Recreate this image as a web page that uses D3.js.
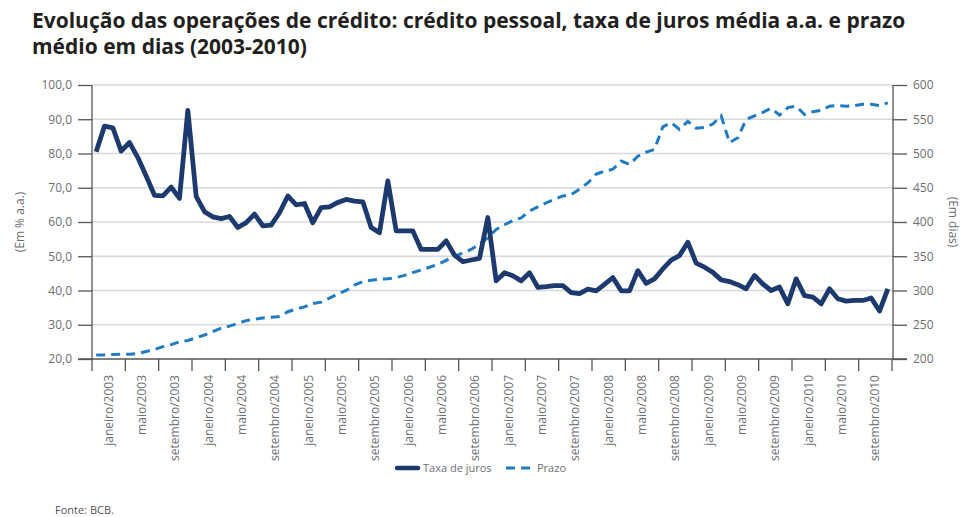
<!DOCTYPE html>
<html>
<head>
<meta charset="utf-8">
<script src="https://cdn.jsdelivr.net/npm/d3@7"></script>
<style>
    body { margin: 0; background: #fff; }
    svg text { font-family: "Liberation Sans Narrow", "Open Sans", sans-serif; }
</style>
</head>
<body>
<div id="chart"></div>
<script>

// categorias: meses de janeiro/2003 a dezembro/2010
var years = [2003, 2004, 2005, 2006, 2007, 2008, 2009, 2010];
var monthNames = ["janeiro", "fevereiro", "março", "abril", "maio", "junho",
    "julho", "agosto", "setembro", "outubro", "novembro", "dezembro"];

// taxa de juros média (% a.a.) - eixo esquerdo
var taxa = [
    80.5, 88.0, 87.5, 80.7, 83.2, 78.8, 73.4, 67.8, 67.6, 70.2, 66.9, 92.6,
    67.5, 63.0, 61.5, 61.0, 61.6, 58.4, 59.8, 62.3, 58.9, 59.1, 62.7, 67.6,
    65.0, 65.4, 59.8, 64.2, 64.4, 65.7, 66.6, 66.1, 65.9, 58.4, 56.9, 72.0,
    57.4, 57.4, 57.4, 52.0, 52.0, 52.0, 54.5, 50.3, 48.4, 48.9, 49.4, 61.3,
    42.8, 45.2, 44.3, 42.8, 45.2, 40.9, 41.1, 41.4, 41.4, 39.4, 39.1, 40.4,
    39.9, 41.8, 43.8, 39.9, 39.9, 45.8, 42.1, 43.4, 46.3, 48.9, 50.2, 54.1,
    48.0, 46.8, 45.3, 43.1, 42.6, 41.7, 40.5, 44.4, 41.9, 40.0, 41.0, 36.1,
    43.4, 38.5, 38.1, 36.1, 40.5, 37.6, 36.9, 37.1, 37.1, 37.8, 34.0, 40.5
];

// prazo médio (dias) - eixo direito
var prazo = [
    206, 206, 206.5, 207, 207, 208, 211, 214, 218, 221, 225, 227,
    231, 235, 240, 245, 248, 252, 256, 258, 260, 261, 262, 269,
    273, 276, 281, 283, 289, 295, 300, 308, 313, 315, 316.5, 317,
    319, 322, 326, 330, 334, 338, 344, 350, 355, 360, 368, 377,
    389, 396, 402, 406, 416, 422, 428, 433, 438, 440, 448, 457,
    470, 474, 477, 489, 484, 496, 502, 506, 539, 545, 535, 547,
    537, 538, 543, 555, 516, 523, 550, 555, 560, 566, 556, 567,
    569, 557, 561, 563, 569, 570, 569, 570, 572, 572, 570, 574
];

var leftTicks = [20, 30, 40, 50, 60, 70, 80, 90, 100];
var rightTicks = [200, 250, 300, 350, 400, 450, 500, 550, 600];
var labelMonths = ["janeiro", "maio", "setembro"];

var months = [];
years.forEach(function(y) {
    monthNames.forEach(function(m) { months.push(m + "/" + y); });
});

var width = 963, height = 517;
var margin = { top: 85, right: 70, bottom: 158, left: 92 };
var innerW = 892 - margin.left;
var innerH = 359 - margin.top;

var colorTaxa = "#1d3a6e";
var colorPrazo = "#1f7cc4";
var textColor = "#6d6e71";

var svg = d3.select("#chart").append("svg")
    .attr("width", width)
    .attr("height", height);

// titulo
var title = svg.append("text")
    .style("font-family", "'Open Sans', sans-serif")
    .style("font-weight", "bold")
    .style("font-size", "21px")
    .attr("fill", "#231f20");
title.append("tspan").attr("x", 32).attr("y", 28)
    .text("Evolução das operações de crédito: crédito pessoal, taxa de juros média a.a. e prazo");
title.append("tspan").attr("x", 32).attr("y", 54)
    .text("médio em dias (2003-2010)");

var g = svg.append("g")
    .attr("transform", "translate(" + margin.left + "," + margin.top + ")");

var x = d3.scaleBand()
    .domain(months)
    .range([0, innerW])
    .padding(0);

var yLeft = d3.scaleLinear().domain([20, 100]).range([innerH, 0]);
var yRight = d3.scaleLinear().domain([200, 600]).range([innerH, 0]);

// grade horizontal
g.selectAll("line.grid")
    .data(leftTicks.slice(1))
    .enter().append("line")
    .attr("class", "grid")
    .attr("x1", 0)
    .attr("x2", innerW + 1)
    .attr("y1", function(d) { return yLeft(d); })
    .attr("y2", function(d) { return yLeft(d); })
    .attr("stroke", "#d8d8d8")
    .attr("stroke-width", 1.5);

// eixo esquerdo
var leftAxis = g.append("g")
    .call(d3.axisLeft(yLeft)
        .tickValues(leftTicks)
        .tickSize(14)
        .tickPadding(6)
        .tickFormat(function(d) { return d3.format(".1f")(d).replace(".", ","); }));

// eixo direito
var rightAxis = g.append("g")
    .attr("transform", "translate(" + (innerW + 1) + ",0)")
    .call(d3.axisRight(yRight)
        .tickValues(rightTicks)
        .tickSize(14)
        .tickPadding(6));

// eixo x: marcas a cada 4 meses
var tickMonths = months.filter(function(d, i) { return i % 4 === 0; });
var xAxis = g.append("g")
    .attr("transform", "translate(0," + innerH + ")");
xAxis.append("line")
    .attr("x1", -14).attr("x2", innerW + 15)
    .attr("stroke", "#555").attr("stroke-width", 1.3);
xAxis.selectAll("line.tick")
    .data(tickMonths.concat(["fim"]))
    .enter().append("line")
    .attr("class", "tick")
    .attr("x1", function(d) { return d === "fim" ? innerW : x(d); })
    .attr("x2", function(d) { return d === "fim" ? innerW : x(d); })
    .attr("y1", 0).attr("y2", 12)
    .attr("stroke", "#555").attr("stroke-width", 1.3);

xAxis.selectAll("text.mes")
    .data(months.filter(function(d) { return labelMonths.indexOf(d.split("/")[0]) >= 0; }))
    .enter().append("text")
    .attr("class", "mes")
    .attr("transform", function(d) {
        var cx = x(d) + x.bandwidth() * 2;
        return "translate(" + (cx + 4) + ",16) rotate(-90)";
    })
    .attr("text-anchor", "end")
    .style("font-size", "12px")
    .attr("fill", textColor)
    .text(function(d) { return d; });

[leftAxis, rightAxis].forEach(function(a) {
    a.select(".domain").attr("stroke", "#555").attr("stroke-width", 1.3);
    a.selectAll(".tick line").attr("stroke", "#555").attr("stroke-width", 1.3);
    a.selectAll(".tick text")
        .style("font-family", "'Open Sans', sans-serif")
        .style("font-size", "12px")
        .attr("fill", textColor);
});
leftAxis.select(".domain").attr("d", "M0," + (innerH + 0.5) + "V0");
rightAxis.select(".domain").attr("d", "M0," + (innerH + 0.5) + "V0");

// titulos dos eixos
svg.append("text")
    .attr("transform", "translate(24," + (margin.top + innerH / 2) + ") rotate(-90)")
    .attr("text-anchor", "middle")
    .style("font-size", "12px")
    .attr("fill", textColor)
    .text("(Em % a.a.)");

svg.append("text")
    .attr("transform", "translate(949," + (margin.top + innerH / 2) + ") rotate(90)")
    .attr("text-anchor", "middle")
    .style("font-size", "12px")
    .attr("fill", textColor)
    .text("(Em dias)");

// linhas
var cx = function(d, i) { return x(months[i]) + x.bandwidth() / 2; };

var lineTaxa = d3.line()
    .x(cx)
    .y(function(d) { return yLeft(d); });

var linePrazo = d3.line()
    .x(cx)
    .y(function(d) { return yRight(d); });

g.append("path")
    .datum(prazo)
    .attr("fill", "none")
    .attr("stroke", colorPrazo)
    .attr("stroke-width", 3)
    .attr("stroke-dasharray", "9,6")
    .attr("d", linePrazo);

g.append("path")
    .datum(taxa)
    .attr("fill", "none")
    .attr("stroke", colorTaxa)
    .attr("stroke-width", 4.8)
    .attr("stroke-linejoin", "round")
    .attr("d", lineTaxa);

// legenda
var legend = svg.append("g").attr("transform", "translate(397,468)");
legend.append("line")
    .attr("x1", 0).attr("x2", 21)
    .attr("stroke", colorTaxa).attr("stroke-width", 4.5)
    .attr("stroke-linecap", "round");
legend.append("text")
    .attr("x", 26).attr("y", 3.5)
    .style("font-size", "11px")
    .attr("fill", textColor)
    .text("Taxa de juros");
legend.append("line")
    .attr("x1", 109).attr("x2", 139)
    .attr("stroke", colorPrazo).attr("stroke-width", 3)
    .attr("stroke-dasharray", "9,6");
legend.append("text")
    .attr("x", 140).attr("y", 3.5)
    .style("font-size", "11px")
    .attr("fill", textColor)
    .text("Prazo");

// fonte
svg.append("text")
    .attr("x", 55)
    .attr("y", 514)
    .style("font-family", "'Open Sans', sans-serif")
    .style("font-size", "11px")
    .attr("fill", "#555")
    .text("Fonte: BCB.");

</script>
</body>
</html>
